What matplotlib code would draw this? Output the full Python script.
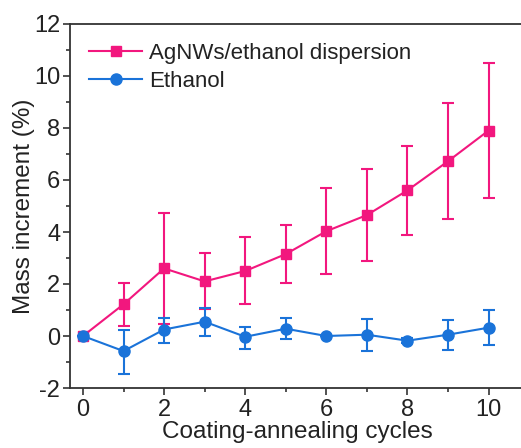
import numpy as np
import matplotlib
matplotlib.use("Agg")
import matplotlib.pyplot as plt
from matplotlib.ticker import MultipleLocator
from matplotlib.lines import Line2D

plt.rcParams['font.family'] = ['Liberation Sans', 'DejaVu Sans']
plt.rcParams['axes.unicode_minus'] = False

# data
cycles = [0, 1, 2, 3, 4, 5, 6, 7, 8, 9, 10]

agnw_mean = [0, 1.22, 2.6, 2.1, 2.5, 3.15, 4.03, 4.65, 5.6, 6.72, 7.9]
agnw_top = [0, 2.05, 4.74, 3.2, 3.8, 4.28, 5.68, 6.41, 7.31, 8.96, 10.5]
agnw_bottom = [0, 0.38, 0.45, 1.03, 1.22, 2.03, 2.4, 2.88, 3.88, 4.49, 5.32]

eth_mean = [0, -0.58, 0.25, 0.55, -0.03, 0.28, 0, 0.05, -0.18, 0.05, 0.32]
eth_top = [0, 0.23, 0.7, 1.06, 0.36, 0.7, 0, 0.67, -0.08, 0.62, 0.99]
eth_bottom = [0, -1.45, -0.26, 0.0, -0.49, -0.13, 0, -0.58, -0.28, -0.55, -0.35]

pink = '#F2177E'
blue = '#1A73D9'

fig = plt.figure(figsize=(5.21, 4.48), dpi=100)
ax = fig.add_axes([70/521, 60/448, 455/521, 364/448])

def err(mean, top, bottom):
    """Returns asymmetric error arrays from the bar ends"""
    mean = np.array(mean)
    return [mean - np.array(bottom), np.array(top) - mean]

ax.errorbar(cycles, agnw_mean, yerr=err(agnw_mean, agnw_top, agnw_bottom),
            color=pink, marker='s', markersize=7.5, linewidth=1.5,
            elinewidth=1.5, capsize=4, capthick=1.5, zorder=3)
ax.errorbar(cycles, eth_mean, yerr=err(eth_mean, eth_top, eth_bottom),
            color=blue, marker='o', markersize=8, linewidth=1.5,
            elinewidth=1.5, capsize=4, capthick=1.5, zorder=4)

ax.set_xlim(-0.32, 10.9)
ax.set_ylim(-2, 12)
ax.xaxis.set_major_locator(MultipleLocator(2))
ax.xaxis.set_minor_locator(MultipleLocator(1))
ax.yaxis.set_major_locator(MultipleLocator(2))
ax.yaxis.set_minor_locator(MultipleLocator(1))
ax.tick_params(which='major', direction='out', length=5, width=1.2,
               labelsize=17, colors='#333333', labelcolor='#222222', pad=2)
ax.tick_params(axis='x', which='major', pad=3)
ax.tick_params(which='minor', direction='out', length=3, width=1.2, colors='#333333')
for s in ax.spines.values():
    s.set_linewidth(1.3)
    s.set_color('#333333')
ax.spines['right'].set_visible(False)

ax.set_xlabel('Coating-annealing cycles', fontsize=17.5, labelpad=0, color='#222222')
ax.set_ylabel('Mass increment (%)', fontsize=17.5, labelpad=-1, color='#222222')

# legend handles without the error bars
handles = [Line2D([], [], color=pink, marker='s', markersize=7.5, linewidth=1.5),
           Line2D([], [], color=blue, marker='o', markersize=8, linewidth=1.5)]
labels = ['AgNWs/ethanol dispersion', 'Ethanol']
ax.legend(handles, labels, loc='upper left', frameon=False, fontsize=16,
          handlelength=2.4, handletextpad=0.3, borderaxespad=0, borderpad=0,
          labelspacing=0.3, bbox_to_anchor=(0.042, 0.948),
          labelcolor='#222222')

fig.savefig('out.png', dpi=100)
